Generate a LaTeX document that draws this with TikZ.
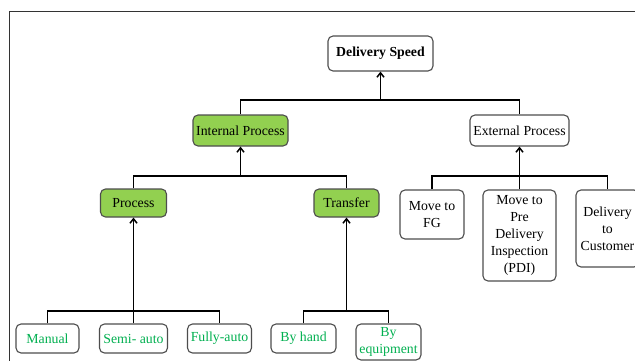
\documentclass[tikz,border=0pt]{standalone}
\usepackage{fontspec}
\newfontfamily\boxfont{LiberationSerif}[Extension=.ttf, UprightFont=*-Regular, BoldFont=*-Bold]
\usetikzlibrary{arrows.meta}
\definecolor{leafgreen}{HTML}{00B050}
\definecolor{boxgreen}{HTML}{92D050}
\definecolor{edgegray}{HTML}{4D4D4D}
\begin{document}
\begin{tikzpicture}[x=1pt,y=-1pt,
  box/.style={draw=edgegray, line width=1.1pt, rounded corners=5pt, inner sep=0pt,
              align=center, font=\boxfont\fontsize{13.8}{17}\selectfont},
  hi/.style={box, fill=boxgreen},
  leaf/.style={box, text=leafgreen, minimum height=29pt},
  wire/.style={line width=1.3pt, black},
  up/.style={wire, -{Straight Barb[length=4.5pt,width=7pt,line width=1.5pt]}},
]
\useasboundingbox (0,0) rectangle (635,361);
\fill[white] (0,0) rectangle (635,361);
% outer frame
\draw[line width=1pt, black!80] (9,370) -- (9,12) -- (645,12);

% top
\node[box, minimum width=105pt, minimum height=35pt,
      font=\boxfont\fontsize{13.8}{17}\selectfont\bfseries] (ds) at (380.5,53.5) {Delivery Speed};
% second level
\node[hi, minimum width=95pt, minimum height=31pt] (ip) at (240.5,130.5) {Internal Process};
\node[box, minimum width=99pt, minimum height=31pt] (ep) at (519.5,130.5) {External Process};
% third level
\node[hi, minimum width=66pt, minimum height=28pt] (proc) at (133.5,203) {Process};
\node[hi, minimum width=65pt, minimum height=28pt] (tr) at (346.5,203) {Transfer};
\node[box, minimum width=64pt, minimum height=49pt] (fg) at (432,214.5) {Move to\\FG};
\node[box, minimum width=73pt, minimum height=91pt] (pdi) at (519.5,235.5) {Move to\\Pre\\Delivery\\Inspection\\(PDI)};
\node[box, minimum width=63pt, minimum height=77pt] (cust) at (607.5,228.5) {Delivery\\to\\Customer};
% leaves
\node[leaf, minimum width=63pt] (manual) at (47.5,338.5) {Manual};
\node[leaf, minimum width=68pt] (semi) at (133.5,338.5) {Semi- auto};
\node[leaf, minimum width=64pt] (fully) at (219.5,338.5) {Fully-auto};
\node[leaf, minimum width=65pt] (hand) at (303.5,338.5) {By hand};
\node[leaf, minimum width=65pt, minimum height=36pt] (equip) at (388.5,342) {By\\equipment};

% junction points
\coordinate (j0) at (380.5,100);
\coordinate (j1) at (240.5,176);
\coordinate (j2) at (519.5,176);
\coordinate (j3) at (133.5,311);
\coordinate (j4) at (346.5,311);

% connectors
\draw[wire] (ip.north) |- (j0) -| (ep.north);
\draw[up] (j0) -- (ds.south);

\draw[wire] (proc.north) |- (j1) -| (tr.north);
\draw[up] (j1) -- (ip.south);

\draw[wire] (fg.north) |- (j2) -| (cust.north);
\draw[wire] (pdi.north) -- (j2);
\draw[up] (j2) -- (ep.south);

\draw[wire] (manual.north) |- (j3) -| (fully.north);
\draw[wire] (semi.north) -- (j3);
\draw[up] (j3) -- (proc.south);

\draw[wire] (hand.north) |- (j4) -| (equip.north);
\draw[up] (j4) -- (tr.south);
\end{tikzpicture}
\end{document}
